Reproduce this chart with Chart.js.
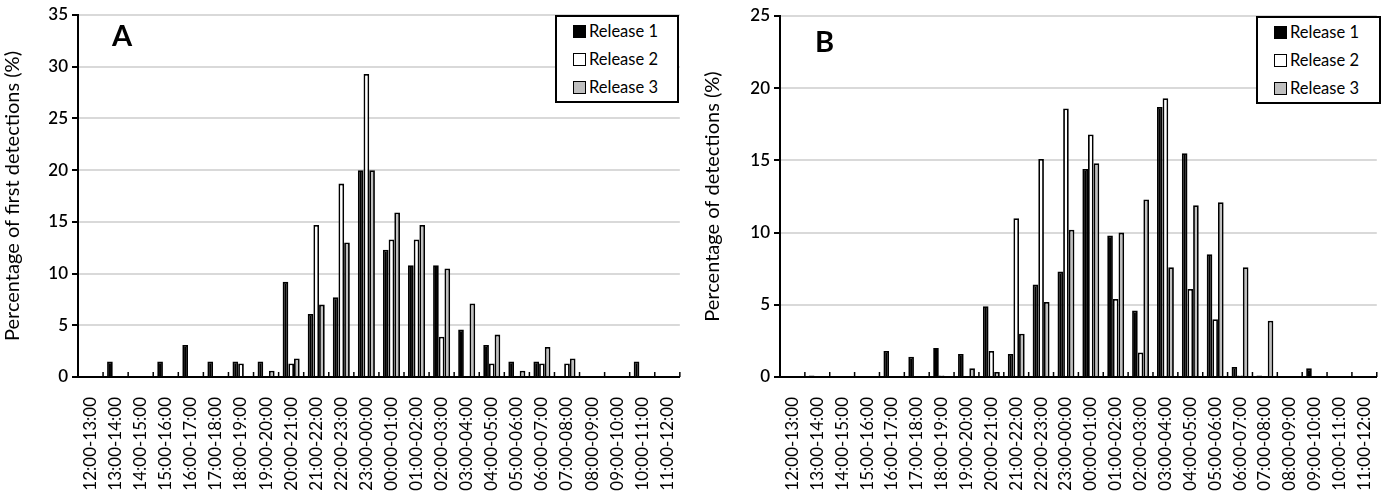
<!DOCTYPE html>
<html>
<head>
<meta charset="utf-8">
<script src="https://cdn.jsdelivr.net/npm/chart.js@4.4.1/dist/chart.umd.min.js"></script>
<style>
  body { margin: 0; background: #fff; font-family: Lato, sans-serif; }
  #wrap { position: relative; width: 1397px; height: 492px; overflow: hidden; }
  .panel { position: absolute; top: 0; height: 492px; }
  .letter { position: absolute; font-weight: bold; font-size: 29px; color: #000; }
  .legend { position: absolute; border: 2px solid #000; background: #fff; box-sizing: border-box; padding: 0 0 0 16px; }
  .legend div { height: 28px; line-height: 28px; font-size: 16.5px; white-space: nowrap; }
  .legend span { display: inline-block; width: 11px; height: 11px; border: 1.5px solid #000; margin-right: 3px; vertical-align: -1px; }
</style>
</head>
<body>
<div id="wrap">
  <div class="panel" style="left:0;width:700px"><canvas id="chartA"></canvas></div>
  <div class="panel" style="left:700px;width:697px"><canvas id="chartB"></canvas></div>
  <div class="letter" style="left:112px;top:17px">A</div>
  <div class="letter" style="left:815px;top:23px">B</div>
  <div class="legend" id="legendA" style="left:555px;top:15px;width:124px;height:88px"></div>
  <div class="legend" id="legendB" style="left:1256px;top:16px;width:125px;height:88px"></div>
</div>
<script>
// hourly bins
const hours = ['12:00-13:00', '13:00-14:00', '14:00-15:00', '15:00-16:00', '16:00-17:00', '17:00-18:00',
    '18:00-19:00', '19:00-20:00', '20:00-21:00', '21:00-22:00', '22:00-23:00', '23:00-00:00',
    '00:00-01:00', '01:00-02:00', '02:00-03:00', '03:00-04:00', '04:00-05:00', '05:00-06:00',
    '06:00-07:00', '07:00-08:00', '08:00-09:00', '09:00-10:00', '10:00-11:00', '11:00-12:00'];

const releaseNames = ['Release 1', 'Release 2', 'Release 3'];
const releaseFill = ['#000000', '#ffffff', '#bfbfbf'];

// A: percentage of first detections
const firstR1 = [0, 1.5, 0, 1.5, 3.1, 1.5, 1.5, 1.5, 9.2, 6.1, 7.7, 20.0, 12.3, 10.8, 10.8, 4.6, 3.1, 1.5, 1.5, 0, 0, 0, 1.5, 0];
const firstR2 = [0, 0, 0, 0, 0, 0, 1.3, 0, 1.3, 14.7, 18.7, 29.3, 13.3, 13.3, 3.9, 0, 1.3, 0, 1.3, 1.3, 0, 0, 0, 0];
const firstR3 = [0, 0, 0, 0, 0, 0, 0, 0.6, 1.8, 7.0, 13.0, 20.0, 15.9, 14.7, 10.5, 7.1, 4.1, 0.6, 2.9, 1.8, 0, 0, 0, 0];

// B: percentage of detections
const allR1 = [0, 0.1, 0, 0.05, 1.8, 1.4, 2.0, 1.6, 4.9, 1.6, 6.4, 7.3, 14.4, 9.8, 4.6, 18.7, 15.5, 8.5, 0.7, 0.1, 0, 0.6, 0, 0];
const allR2 = [0, 0, 0, 0, 0, 0, 0.1, 0, 1.8, 11.0, 15.1, 18.6, 16.8, 5.4, 1.7, 19.3, 6.1, 4.0, 0.1, 0, 0, 0, 0, 0];
const allR3 = [0, 0, 0, 0, 0, 0, 0, 0.6, 0.35, 3.0, 5.2, 10.2, 14.8, 10.0, 12.3, 7.6, 11.9, 12.1, 7.6, 3.9, 0, 0, 0, 0];

const fontFam = 'Lato, sans-serif';

// small upward tick marks between categories on the x axis
const innerTicks = {
    id: 'innerTicks',
    afterDatasetsDraw(chart) {
        const x = chart.scales.x, ctx = chart.ctx, b = chart.chartArea.bottom;
        const w = x.getPixelForValue(1) - x.getPixelForValue(0);
        ctx.save();
        ctx.strokeStyle = '#000';
        ctx.lineWidth = 1.5;
        for (let i = 0; i < hours.length; i++) {
            const px = x.getPixelForValue(i) + w / 2;
            ctx.beginPath();
            ctx.moveTo(px, b);
            ctx.lineTo(px, b - 5);
            ctx.stroke();
        }
        ctx.restore();
    }
};

function makeChart(id, series, yMax, yTitle, axisWidth, padRight, padTop) {
    const ctx = document.getElementById(id).getContext('2d');
    return new Chart(ctx, {
        type: 'bar',
        data: {
            labels: hours,
            datasets: series.map((s, i) => ({
                label: releaseNames[i],
                data: s,
                backgroundColor: releaseFill[i],
                borderColor: '#000',
                borderWidth: 1.8,
                borderSkipped: 'start',
                categoryPercentage: 0.68,
                barPercentage: 1.0
            }))
        },
        options: {
            responsive: false,
            animation: false,
            layout: { padding: { top: padTop, right: padRight, left: 0, bottom: 0 } },
            plugins: { legend: { display: false }, tooltip: { enabled: false } },
            scales: {
                x: {
                    grid: { display: false },
                    border: { display: true, color: '#000', width: 2 },
                    ticks: {
                        color: '#000',
                        font: { family: fontFam, size: 17 },
                        minRotation: 90, maxRotation: 90,
                        autoSkip: false,
                        padding: 12
                    },
                    afterFit: scale => { scale.height = 115; }
                },
                y: {
                    min: 0, max: yMax,
                    ticks: { stepSize: 5, color: '#000', font: { family: fontFam, size: 17, weight: 600 }, padding: 4 },
                    grid: { color: '#d9d9d9', lineWidth: 2, tickLength: 6, tickColor: '#000', tickWidth: 2 },
                    border: { display: true, color: '#000', width: 2 },
                    title: {
                        display: true, text: yTitle, color: '#000',
                        font: { family: fontFam, size: 20 },
                        padding: { top: 1, bottom: 4 }
                    },
                    afterFit: scale => { scale.width = axisWidth; }
                }
            }
        },
        plugins: [innerTicks]
    });
}

function sizeCanvas(id, w) {
    const c = document.getElementById(id);
    c.width = w; c.height = 492;
    c.style.width = w + 'px'; c.style.height = '492px';
}
sizeCanvas('chartA', 700);
sizeCanvas('chartB', 697);

makeChart('chartA', [firstR1, firstR2, firstR3], 35, 'Percentage of first detections (%)', 78, 14, 15);
makeChart('chartB', [allR1, allR2, allR3], 25, 'Percentage of detections (%)', 80, 12, 16);

function buildLegend(id) {
    const box = document.getElementById(id);
    releaseNames.forEach((name, i) => {
        const row = document.createElement('div');
        const sw = document.createElement('span');
        sw.style.background = releaseFill[i];
        row.appendChild(sw);
        row.appendChild(document.createTextNode(name));
        box.appendChild(row);
    });
}
buildLegend('legendA');
buildLegend('legendB');
</script>
</body>
</html>
